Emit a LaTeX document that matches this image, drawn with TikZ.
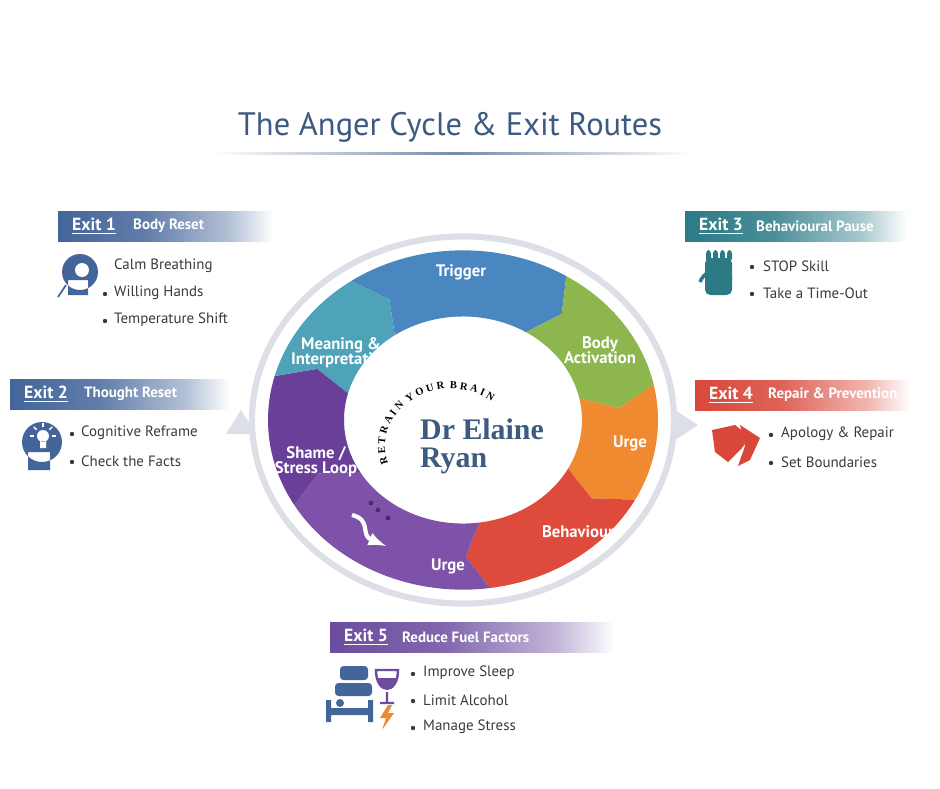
\documentclass[tikz,border=0pt]{standalone}
\usepackage{fontspec}
\setmainfont{PT Sans}
\newfontfamily\logofont{Liberation Serif}
\usetikzlibrary{decorations.text}
\definecolor{titleblue}{HTML}{3D5A80}
\definecolor{trigblue}{HTML}{4A86C0}
\definecolor{bodygreen}{HTML}{8DB64E}
\definecolor{urgeorange}{HTML}{F08A30}
\definecolor{behavred}{HTML}{DE4B3C}
\definecolor{urgepurple}{HTML}{7E52A8}
\definecolor{shamepurple}{HTML}{6A3F9A}
\definecolor{meanteal}{HTML}{4FA3B8}
\definecolor{exitblue}{HTML}{44659A}
\definecolor{exitteal}{HTML}{2B7A86}
\definecolor{exitred}{HTML}{D9473A}
\definecolor{exitpurple}{HTML}{6B4C9E}
\definecolor{ringgray}{HTML}{DCE0E6}
\definecolor{itemgray}{HTML}{3A3A3A}
\tikzset{
  seglabel/.style={text=white,font=\fontsize{9.5}{10.5}\selectfont\bfseries,align=center},
  exitnum/.style={anchor=west,text=white,font=\fontsize{10}{11}\selectfont\bfseries},
  exittitle/.style={anchor=west,text=white,font=\fontsize{8.5}{10}\selectfont\bfseries},
  item/.style={anchor=west,text=itemgray,font=\fontsize{8.5}{10}\selectfont},
  bullet/.style={circle,fill=itemgray,inner sep=0pt,minimum size=2.5pt},
}
% annulus segment: start angle, end angle, colour
\newcommand\ringseg[3]{%
  \fill[#3] (#1:195) arc[start angle=#1,end angle=#2,radius=195]
    -- ({#2-7}:157) -- (#2:119) arc[start angle=#2,end angle=#1,radius=119]
    -- ({#1-7}:157) -- cycle;}
% exit banner: name, x, y, width, colour
\newcommand\exitbanner[5]{%
  \shade[left color=#5,right color=#5!40,middle color=#5!85,shading angle=90] (#2,#3) rectangle ++(#4*0.8,30);
  \shade[left color=#5!40,right color=white] (#2+#4*0.8,#3) rectangle ++(#4*0.2,30);}
\begin{document}
\begin{tikzpicture}[x=0.02cm,y=-0.02cm]
\useasboundingbox (0,0) rectangle (940,788);
\fill[white] (0,0) rectangle (940,788);

% title
\node[text=titleblue,font=\fontsize{18.5}{21}\selectfont] (title) at (450,127) {The Anger Cycle \& Exit Routes};
\shade[left color=white,right color=white,middle color=titleblue!70] (215,152) rectangle (695,154);

% cycle
\begin{scope}[shift={(463,420)},yscale=-0.87]
  \draw[ringgray,line width=3.5pt] (0,0) circle[radius=211];
  \ringseg{125}{58}{trigblue}
  \ringseg{58}{12}{bodygreen}
  \ringseg{12}{-28}{urgeorange}
  \ringseg{-28}{-82}{behavred}
  \ringseg{-82}{-150}{urgepurple}
  \ringseg{-150}{-195}{shamepurple}
  \ringseg{-195}{-235}{meanteal}
  % logo arc
  \path[postaction={decorate,decoration={text along path,
     text={|\logofont\fontsize{6}{6}\selectfont\bfseries|R E T R A I N {} Y O U R {} B R A I N},
     text align=center}}]
     (-12,-30) ++(208:66) arc[start angle=208,end angle=42,radius=66];
\end{scope}
\fill[ringgray] (226,434) -- (241,410) -- (256,434) -- cycle;
\fill[ringgray] (672,408) -- (698,425) -- (672,442) -- cycle;

\node[seglabel] (trigger) at (461,272) {Trigger};
\node[seglabel] (body) at (600,350) {Body\\[-2pt]Activation};
\node[seglabel] (urgeA) at (630,443) {Urge};
\node[seglabel] (behav) at (578,532) {Behaviour};
\node[seglabel] (urgeB) at (448,566) {Urge};
\node[seglabel] (shame) at (316,462) {Shame /\\[-2pt]Stress Loop};
\node[seglabel] (meaning) at (341,353) {Meaning \&\\[-2pt]Interpretation};

% loop dots and arrow
\foreach \px/\py in {371/503,378/510,388/518}
  \fill[shamepurple!70!black] (\px,\py) circle[radius=2.4];
\draw[white,line width=2.4pt,-latex] (352,515) .. controls (372,520) and (360,535) .. (386,546);

% centre name
\node[text=titleblue,font=\logofont\fontsize{17}{19}\selectfont\bfseries,anchor=west] (elaine) at (414,429) {Dr Elaine};
\node[text=titleblue,font=\logofont\fontsize{17}{19}\selectfont\bfseries,anchor=west] (ryan) at (414,461) {Ryan};

% exit 1
\exitbanner{e1}{58}{211}{215}{exitblue}
\node[exitnum] (e1num) at (66,226) {\underline{Exit 1}};
\node[exittitle] (e1title) at (127,226) {Body Reset};
\node[item] (e1a) at (108,266) {Calm Breathing};
\node[item] (e1b) at (108,293) {Willing Hands};
\node[item] (e1c) at (108,320) {Temperature Shift};
\node[bullet] at (105,294) {}; \node[bullet] at (105,321) {};
\fill[exitblue] (80,272) circle[radius=18] (68,280) rectangle (88,295);
\fill[white] (82,270) circle[radius=7];
\draw[exitblue,line width=1pt] (66,285) -- (58,297);

% exit 2
\exitbanner{e2}{10}{379}{220}{exitblue}
\node[exitnum] (e2num) at (18,394) {\underline{Exit 2}};
\node[exittitle] (e2title) at (78,394) {Thought Reset};
\node[item] (e2a) at (75,433) {Cognitive Reframe};
\node[item] (e2b) at (75,461) {Check the Facts};
\node[bullet] at (72,434) {}; \node[bullet] at (72,462) {};
\fill[exitblue] (42,442) circle[radius=20] (28,452) rectangle (50,470);
\fill[white] (43,436) circle[radius=6] (40,441) rectangle (46,448);
\foreach \a in {0,45,90,135,180}
  \draw[white,line width=0.8pt] (43,436) ++({-\a}:9) -- ++({-\a}:4);

% exit 3
\exitbanner{e3}{685}{211}{222}{exitteal}
\node[exitnum] (e3num) at (693,226) {\underline{Exit 3}};
\node[exittitle] (e3title) at (750,226) {Behavioural Pause};
\node[item] (e3a) at (757,266) {STOP Skill};
\node[item] (e3b) at (757,293) {Take a Time-Out};
\node[bullet] at (752,267) {}; \node[bullet] at (752,294) {};
\fill[exitteal,rounded corners=3pt] (705,258) rectangle (732,295);
\foreach \fx in {706,713,720,727}
  \fill[exitteal,rounded corners=2pt] (\fx,250) rectangle ++(5,12);
\draw[exitteal,line width=2pt,-latex] (700,282) arc[start angle=200,end angle=330,radius=18];

% exit 4
\exitbanner{e4}{695}{380}{215}{exitred}
\node[exitnum] (e4num) at (703,395) {\underline{Exit 4}};
\node[exittitle] (e4title) at (762,395) {Repair \& Prevention};
\node[item] (e4a) at (775,434) {Apology \& Repair};
\node[item] (e4b) at (775,462) {Set Boundaries};
\node[bullet] at (771,435) {}; \node[bullet] at (771,463) {};
\fill[exitred] (712,430) -- (735,425) -- (750,437) -- (742,448) -- (728,462) -- (715,452) -- cycle;
\fill[exitred] (740,425) -- (760,438) -- (750,460) -- (738,466) -- (745,446) -- cycle;

% exit 5
\exitbanner{e5}{330}{622}{285}{exitpurple}
\node[exitnum] (e5num) at (338,637) {\underline{Exit 5}};
\node[exittitle] (e5title) at (396,637) {Reduce Fuel Factors};
\node[item] (e5a) at (417,673) {Improve Sleep};
\node[item] (e5b) at (417,700) {Limit Alcohol};
\node[item] (e5c) at (417,727) {Manage Stress};
\foreach \by in {674,701,728} \node[bullet] at (413,\by) {};
\fill[exitblue,rounded corners=2pt] (340,666) rectangle (368,680) (335,683) rectangle (372,696);
\fill[exitblue] (326,700) rectangle (331,722) (331,708) rectangle (372,715) (368,700) rectangle (373,722);
\fill[exitblue] (340,703) circle[radius=4];
\draw[exitpurple,line width=1.4pt] (376,670) .. controls (376,695) and (398,695) .. (398,670) -- cycle (387,692) -- (387,702) (380,703) -- (394,703);
\fill[exitpurple] (377,678) .. controls (379,691) and (395,691) .. (397,678) -- cycle;
\fill[urgeorange] (388,705) -- (380,718) -- (386,718) -- (382,730) -- (394,713) -- (388,713) -- (392,705) -- cycle;
\end{tikzpicture}
\end{document}
